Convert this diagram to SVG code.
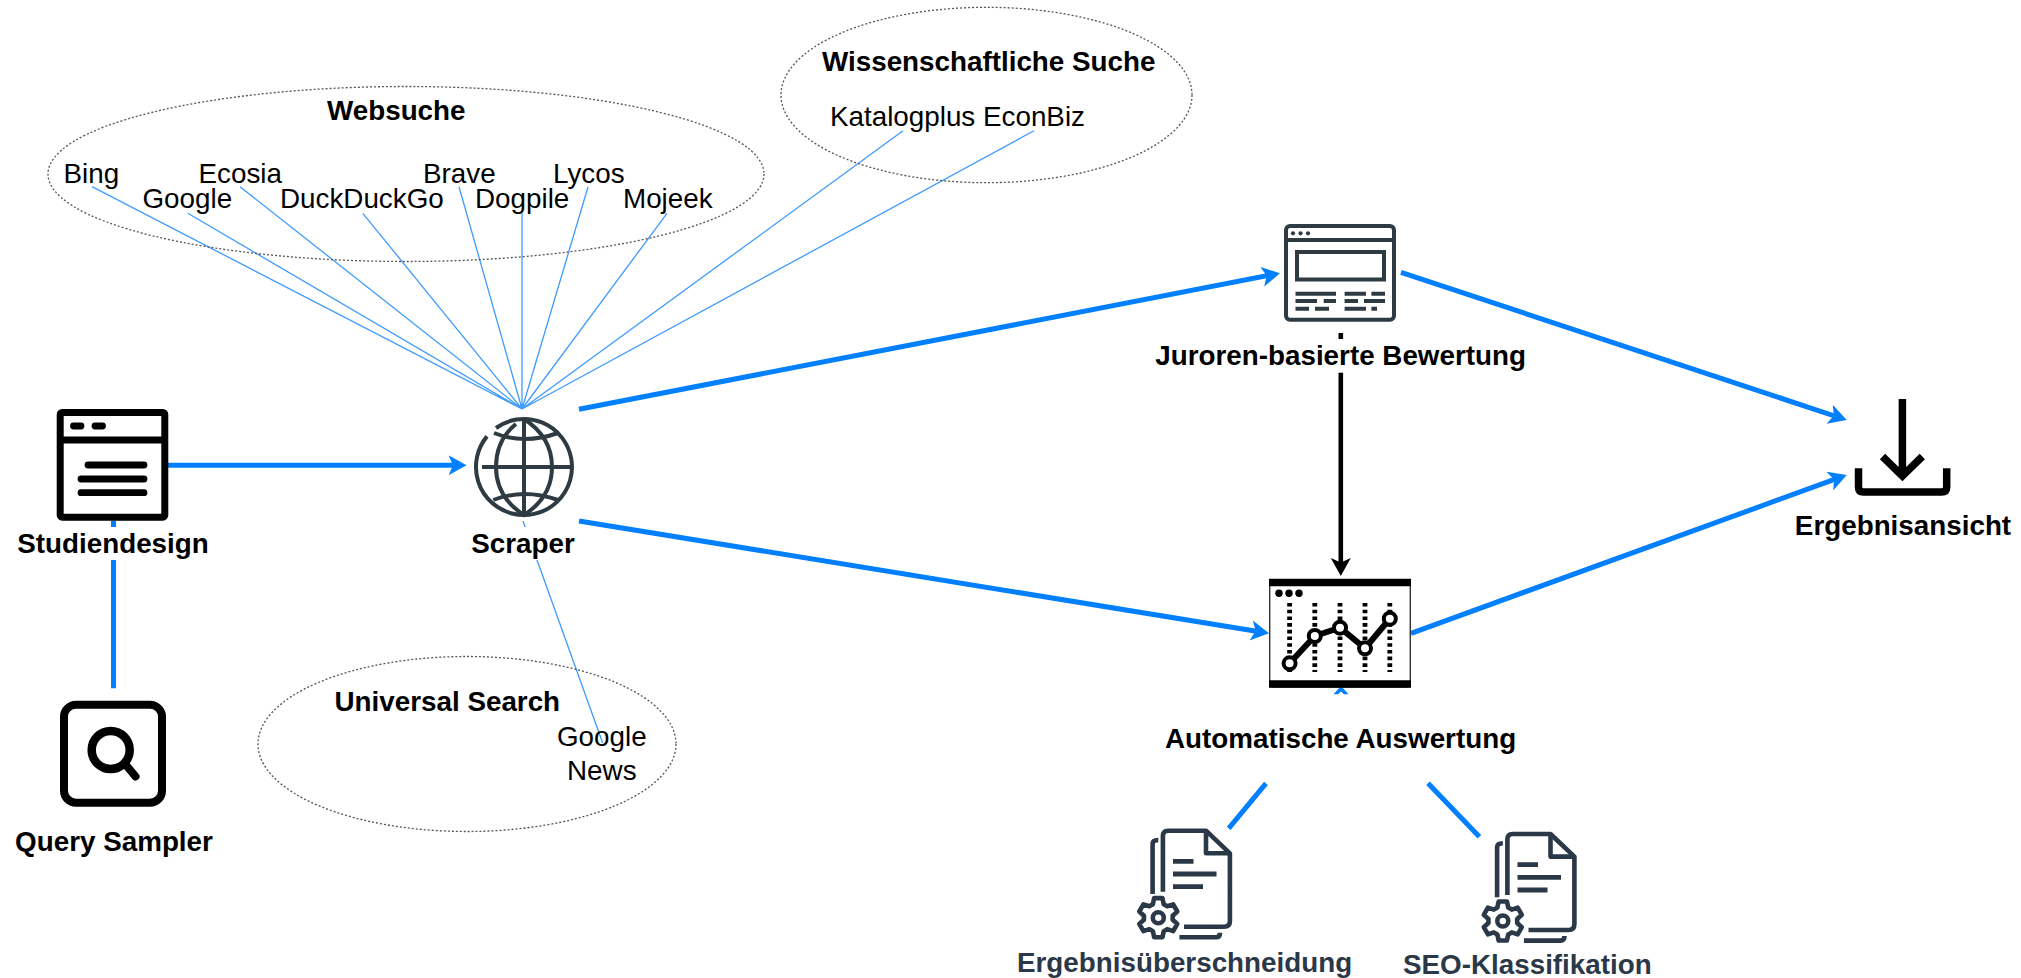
<svg xmlns="http://www.w3.org/2000/svg" width="2021" height="978" viewBox="0 0 2021 978">
<style>
text{font-family:"Liberation Sans",Arial,sans-serif;font-size:27.8px;fill:#000}
.b{font-weight:bold;font-size:27.8px}
.m{text-anchor:middle}
.dk{fill:#2b3848}
.group{fill:none;stroke:#555;stroke-width:1.3;stroke-dasharray:2 2}
.thin{stroke:#3f9bff;stroke-width:1.3;fill:none}
.thick{stroke:#007fff;stroke-width:5;fill:none}
.black{stroke:#000;stroke-width:4.6;fill:none}
.ic{fill:none;stroke:#2f3b42;stroke-width:4}
.ik{fill:none;stroke:#000;stroke-width:7}
.doc{fill:none;stroke:#2b3848;stroke-width:4.6;stroke-linejoin:round}
.mask{fill:#fff;stroke:none}
</style>
<defs>
<marker id="hb" markerUnits="userSpaceOnUse" markerWidth="20" markerHeight="22" viewBox="0 -11 20 22" refX="10" refY="0" orient="auto"><path d="M0,-10 L18,0 L0,10 L4.5,0 Z" fill="#007fff"/></marker>
<marker id="hk" markerUnits="userSpaceOnUse" markerWidth="20" markerHeight="22" viewBox="0 -11 20 22" refX="10" refY="0" orient="auto"><path d="M0,-10 L18,0 L0,10 L4.5,0 Z" fill="#000"/></marker>
<g id="docIcon">
<path d="M1162.9,891.7V836Q1162.9,830.7 1168,830.7H1206L1229.9,853.3V921Q1229.9,926.7 1224,926.7H1184"/>
<path d="M1206,830.7V853.3H1229.9"/>
<path d="M1152.6,894V844Q1152.6,840 1158.3,840"/>
<path d="M1179.4,937.3H1216Q1220,937.3 1220,932.7"/>
<path d="M1173,861.3H1193.5M1173,874H1216.5M1173,886.7H1203" stroke-width="4.8"/>
<g transform="translate(1158.3,917.7)"><path d="M-4.16,-19.56L4.16,-19.56L5.43,-13.44L8.93,-11.43L14.86,-13.38L19.02,-6.18L14.36,-2.02L14.36,2.02L19.02,6.18L14.86,13.38L8.93,11.43L5.43,13.44L4.16,19.56L-4.16,19.56L-5.43,13.44L-8.93,11.43L-14.86,13.38L-19.02,6.18L-14.36,2.02L-14.36,-2.02L-19.02,-6.18L-14.86,-13.38L-8.93,-11.43L-5.43,-13.44Z"/><circle r="5.5"/></g>
</g>
</defs>
<rect width="2021" height="978" fill="#fff"/>

<g id="connectors">
<path class="thin" d="M92,186.7L522,409M187.8,213.3L522,409M240,186.7L522,409M362.8,213.3L522,409M459,186.7L522,409M522,213.3L522,409M588,187L522,409M667,213.3L522,409M903,130.7L522,409M1034,130.7L522,409"/>
<path class="thin" d="M523,521L602.7,743"/>
<path class="thick" d="M168,465.3H458.5" marker-end="url(#hb)"/>
<path class="thick" d="M113.5,520.7V688.3"/>
<path class="thick" d="M579,409.3L1272.1,274.8" marker-end="url(#hb)"/>
<path class="thick" d="M579,521L1261.1,632" marker-end="url(#hb)"/>
<path class="thick" d="M1401,272.3L1839.1,417.5" marker-end="url(#hb)"/>
<path class="thick" d="M1411,633.3L1839.2,477.7" marker-end="url(#hb)"/>
<path class="black" d="M1340.8,333V568" marker-end="url(#hk)"/>
<path d="M1341,686L1348.5,694.3H1344L1341,691.5L1338,694.3H1333.5Z" fill="#007fff"/>
<path class="thick" d="M1266,783.3L1228.7,828.3M1428,783.3L1479.4,836.7"/>
</g>

<g id="group-websuche">
<ellipse class="group" cx="406" cy="174" rx="358" ry="87.5"/>
<text class="b" x="327" y="120">Websuche</text>
<text x="63.5" y="182.7">Bing</text>
<text x="198.5" y="182.7">Ecosia</text>
<text x="423" y="182.7">Brave</text>
<text x="553" y="182.7">Lycos</text>
<text x="142.5" y="208.3">Google</text>
<text x="280" y="208.3">DuckDuckGo</text>
<text x="475" y="208.3">Dogpile</text>
<text x="623" y="208.3">Mojeek</text>
</g>

<g id="group-wissenschaft">
<ellipse class="group" cx="986.5" cy="95" rx="205.5" ry="87.7"/>
<text class="b" x="822" y="70.7">Wissenschaftliche Suche</text>
<text x="830" y="126">Katalogplus EconBiz</text>
</g>

<g id="group-universal">
<ellipse class="group" cx="467" cy="744" rx="209" ry="87.5"/>
<text class="b" x="334.5" y="710.7">Universal Search</text>
<text class="m" x="601.8" y="746">Google</text>
<text class="m" x="601.8" y="780">News</text>
</g>

<g id="node-studiendesign">
<rect class="ik" x="60.2" y="412.5" width="104.6" height="104.7" rx="2"/>
<path class="ik" d="M60,440H165"/>
<path d="M73.5,426H81M95,426H102.5M88,465H144M81,479H144M81,492.7H144" fill="none" stroke="#000" stroke-width="6.8" stroke-linecap="round"/>
<rect class="mask" x="12" y="527" width="202" height="33"/>
<text class="b m" x="113" y="552.7">Studiendesign</text>
</g>

<g id="node-query-sampler">
<rect x="64" y="704.7" width="98" height="98" rx="12" fill="none" stroke="#000" stroke-width="8"/>
<circle cx="110.7" cy="750" r="19" fill="none" stroke="#000" stroke-width="8.5"/>
<path d="M126,765L135.5,776.5" fill="none" stroke="#000" stroke-width="8" stroke-linecap="round"/>
<text class="b m" x="114" y="851">Query Sampler</text>
</g>

<g id="node-scraper">
<path class="ic" d="M496,428A48,48 0 1 1 487,436.4"/>
<path class="ic" d="M524,419V515M482,467H572"/>
<path class="ic" d="M516,424Q496,440 496,467Q496,497 524,515Q552,497 552,467Q552,437 524,419"/>
<path class="ic" d="M494,433Q524,445 558,433M493.3,500Q524,488 558,500"/>
<rect class="mask" x="465" y="527" width="118" height="33"/>
<text class="b m" x="523" y="552.7">Scraper</text>
</g>

<g id="node-juroren">
<rect class="ic" x="1286" y="226" width="108" height="93.7" rx="4"/>
<path class="ic" d="M1286,240H1394"/>
<circle cx="1293" cy="233.3" r="2.1" fill="#2f3b42"/><circle cx="1300.5" cy="233.3" r="2.1" fill="#2f3b42"/><circle cx="1308" cy="233.3" r="2.1" fill="#2f3b42"/>
<rect class="ic" x="1297" y="252" width="87" height="27.5"/>
<path d="M1295.5,293.7H1336M1344.6,293.7H1366M1371.4,293.7H1385M1295.5,301H1317M1323.7,301H1336M1344.6,301H1358M1364,301H1385M1295.5,308.7H1309M1315,308.7H1329M1344.6,308.7H1366M1371.4,308.7H1377" fill="none" stroke="#2f3b42" stroke-width="4"/>
<rect class="mask" x="1150" y="339" width="382" height="33.7"/>
<text class="b m" x="1340.6" y="365">Juroren-basierte Bewertung</text>
</g>

<g id="node-auswertung">
<rect x="1269.7" y="580" width="140.6" height="107" rx="3" fill="#fff" stroke="#333" stroke-width="1.4"/>
<path d="M1269,582.5H1411M1269,684H1411" fill="none" stroke="#000" stroke-width="7.5"/>
<circle cx="1279" cy="593.3" r="3.7"/><circle cx="1289" cy="593.3" r="3.7"/><circle cx="1299" cy="593.3" r="3.7"/>
<path d="M1289.6,603V672M1314.8,603V672M1340,603V672M1365,603V672M1389.8,603V672" fill="none" stroke="#000" stroke-width="4.8" stroke-dasharray="3.6 3.1"/>
<path d="M1289.6,663.3L1314.8,636L1340,627.7L1365,648.3L1389.8,618.7" fill="none" stroke="#000" stroke-width="6"/>
<g fill="#fff" stroke="#000" stroke-width="4"><circle cx="1289.6" cy="663.3" r="6"/><circle cx="1314.8" cy="636" r="6"/><circle cx="1340" cy="627.7" r="6"/><circle cx="1365" cy="648.3" r="6"/><circle cx="1389.8" cy="618.7" r="6"/></g>
<text class="b m" x="1340.6" y="748.3">Automatische Auswertung</text>
</g>

<g id="node-ergebnisueberschneidung">
<use href="#docIcon" class="doc"/>
<text class="b dk" x="1017" y="971.7">Ergebnisüberschneidung</text>
</g>

<g id="node-seo">
<use href="#docIcon" class="doc" transform="translate(344.5,3.3)"/>
<text class="b dk" x="1403" y="974">SEO-Klassifikation</text>
</g>

<g id="node-ergebnisansicht">
<path d="M1902.4,399V476M1882.5,456.5L1902.4,476L1922.3,456.5" fill="none" stroke="#000" stroke-width="7.5"/>
<path d="M1858.5,468.3V487Q1858.5,492 1863.5,492H1941.5Q1946.7,492 1946.7,487V468.3" fill="none" stroke="#000" stroke-width="7.5"/>
<text class="b m" x="1903" y="535">Ergebnisansicht</text>
</g>
</svg>
